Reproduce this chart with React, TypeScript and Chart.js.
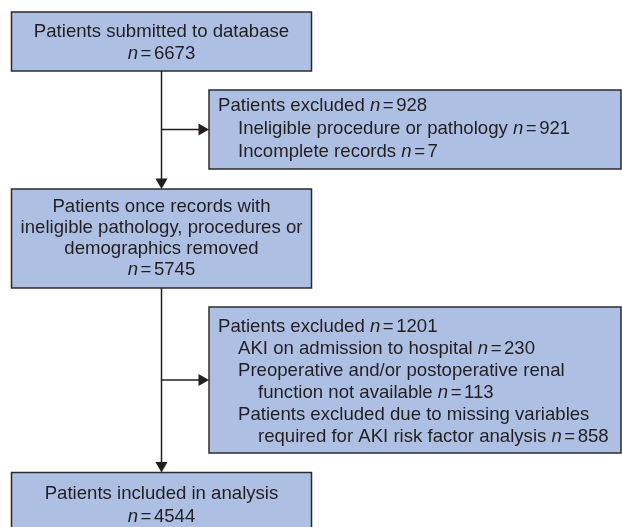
import React, { useEffect, useRef } from "react";
import { Chart, registerables } from "chart.js";

Chart.register(...registerables);

// ---------- DATA ----------
const stageLabels: string[][] = [
  ["Patients submitted to database"],
  ["Patients once records with", "ineligible pathology, procedures or", "demographics removed"],
  ["Patients included in analysis"],
];
const stageCounts: number[] = [6673, 5745, 4544];

const exclusionTitles: string[] = ["Patients excluded", "Patients excluded"];
const exclusionTotals: number[] = [928, 1201];
const exclusionReasons: string[][][] = [
  [["Ineligible procedure or pathology"], ["Incomplete records"]],
  [
    ["AKI on admission to hospital"],
    ["Preoperative and/or postoperative renal", "function not available"],
    ["Patients excluded due to missing variables", "required for AKI risk factor analysis"],
  ],
];
const exclusionCounts: number[][] = [
  [921, 7],
  [230, 113, 858],
];

// ---------- LAYOUT (chart units = px) ----------
const stageBoxes = [
  { x0: 11.5, x1: 311.5, y0: 12, y1: 71, lh: 22, dy: -1 },
  { x0: 11.5, x1: 311.5, y0: 189, y1: 288, lh: 20.7, dy: -2 },
  { x0: 11.5, x1: 311.5, y0: 472.5, y1: 535, lh: 23, dy: -0.5 },
];
const exclusionBoxes = [
  { x0: 209, x1: 621, y0: 90, y1: 169, lh: 23, dy: -2.5 },
  { x0: 209, x1: 621, y0: 307, y1: 453, lh: 22, dy: 0 },
];
const spineX = 161.5;
const FILL = "#adc0e4";
const STROKE = "#2b2b2b";
const TEXT = "#231f20";
const FONT = '"Liberation Sans", Arial, Helvetica, sans-serif';
const FS = 18.6;

type Seg = { t: string; it?: boolean; pad?: number };
type Line = { segs: Seg[]; indent: number };

function nSegs(prefix: string, n: number): Seg[] {
  const s: Seg[] = [];
  if (prefix) s.push({ t: prefix + " " });
  s.push({ t: "n", it: true });
  s.push({ t: "=", pad: 2.5 });
  s.push({ t: String(n) });
  return s;
}

function stageLines(i: number): Line[] {
  const lines: Line[] = stageLabels[i].map((t) => ({ segs: [{ t }], indent: 0 }));
  lines.push({ segs: nSegs("", stageCounts[i]), indent: 0 });
  return lines;
}

function exclusionLines(i: number): Line[] {
  const lines: Line[] = [{ segs: nSegs(exclusionTitles[i], exclusionTotals[i]), indent: 0 }];
  exclusionReasons[i].forEach((parts, j) => {
    parts.forEach((p, k) => {
      const last = k === parts.length - 1;
      lines.push({
        segs: last ? nSegs(p, exclusionCounts[i][j]) : [{ t: p }],
        indent: k === 0 ? 1 : 2,
      });
    });
  });
  return lines;
}

function segFont(s: Seg) {
  return `${s.it ? "italic " : ""}${FS}px ${FONT}`;
}

function segWidth(ctx: CanvasRenderingContext2D, s: Seg) {
  ctx.font = segFont(s);
  return ctx.measureText(s.t).width + 2 * (s.pad || 0);
}

function lineWidth(ctx: CanvasRenderingContext2D, segs: Seg[]) {
  return segs.reduce((w, s) => w + segWidth(ctx, s), 0);
}

const flowPlugin = {
  id: "flowBoxes",
  beforeDatasetsDraw(chart: any) {
    const ctx: CanvasRenderingContext2D = chart.ctx;
    const xs = chart.scales.x;
    const ys = chart.scales.y;
    const drawBox = (b: any, lines: Line[], center: boolean) => {
      const X0 = xs.getPixelForValue(b.x0);
      const X1 = xs.getPixelForValue(b.x1);
      const Y0 = ys.getPixelForValue(b.y0);
      const Y1 = ys.getPixelForValue(b.y1);
      ctx.save();
      ctx.fillStyle = FILL;
      ctx.fillRect(X0, Y0, X1 - X0, Y1 - Y0);
      ctx.strokeStyle = STROKE;
      ctx.lineWidth = 1.5;
      ctx.strokeRect(X0, Y0, X1 - X0, Y1 - Y0);
      ctx.fillStyle = TEXT;
      ctx.textBaseline = "alphabetic";
      ctx.textAlign = "left";
      const midY = (Y0 + Y1) / 2 + b.dy;
      const n = lines.length;
      lines.forEach((ln, i) => {
        const base = midY - ((n - 1) * b.lh) / 2 + i * b.lh + 7;
        let x: number;
        if (center) {
          x = (X0 + X1) / 2 - lineWidth(ctx, ln.segs) / 2;
        } else {
          x = X0 + 9 + ln.indent * 20;
        }
        ln.segs.forEach((s) => {
          ctx.font = segFont(s);
          ctx.fillText(s.t, x + (s.pad || 0), base);
          x += segWidth(ctx, s);
        });
      });
      ctx.restore();
    };
    stageBoxes.forEach((b, i) => drawBox(b, stageLines(i), true));
    exclusionBoxes.forEach((b, i) => drawBox(b, exclusionLines(i), false));
  },
};

export default function App() {
  const ref = useRef<HTMLCanvasElement>(null);
  useEffect(() => {
    document.body.style.margin = "0";
    const canvas = ref.current!;
    const arrowR = 7;
    const connectors: { x: number; y: number }[][] = [
      [
        { x: spineX, y: stageBoxes[0].y1 },
        { x: spineX, y: stageBoxes[1].y0 - arrowR },
      ],
      [
        { x: spineX, y: stageBoxes[1].y1 },
        { x: spineX, y: stageBoxes[2].y0 - arrowR },
      ],
      [
        { x: spineX, y: (exclusionBoxes[0].y0 + exclusionBoxes[0].y1) / 2 },
        { x: exclusionBoxes[0].x0 - arrowR, y: (exclusionBoxes[0].y0 + exclusionBoxes[0].y1) / 2 },
      ],
      [
        { x: spineX, y: (exclusionBoxes[1].y0 + exclusionBoxes[1].y1) / 2 },
        { x: exclusionBoxes[1].x0 - arrowR, y: (exclusionBoxes[1].y0 + exclusionBoxes[1].y1) / 2 },
      ],
    ];
    const heads = [
      { x: spineX, y: stageBoxes[1].y0 - arrowR, r: 180 },
      { x: spineX, y: stageBoxes[2].y0 - arrowR, r: 180 },
      { x: exclusionBoxes[0].x0 - arrowR, y: (exclusionBoxes[0].y0 + exclusionBoxes[0].y1) / 2, r: 90 },
      { x: exclusionBoxes[1].x0 - arrowR, y: (exclusionBoxes[1].y0 + exclusionBoxes[1].y1) / 2, r: 90 },
    ];
    const datasets: any[] = connectors.map((pts) => ({
      type: "scatter",
      data: pts,
      showLine: true,
      borderColor: TEXT,
      borderWidth: 1.5,
      pointRadius: 0,
      fill: false,
    }));
    datasets.push({
      type: "scatter",
      data: heads.map((h) => ({ x: h.x, y: h.y })),
      showLine: false,
      pointStyle: "triangle",
      pointRadius: arrowR,
      pointRotation: heads.map((h) => h.r),
      backgroundColor: TEXT,
      borderColor: TEXT,
      borderWidth: 0,
    });
    const chart = new Chart(canvas, {
      type: "scatter",
      data: { datasets },
      options: {
        animation: false,
        responsive: false,
        devicePixelRatio: 1,
        layout: { padding: 0, autoPadding: false },
        plugins: { legend: { display: false }, tooltip: { enabled: false } },
        events: [],
        scales: {
          x: { type: "linear", min: 0, max: 622, display: false },
          y: { type: "linear", min: 0, max: 527, reverse: true, display: false },
        },
      },
      plugins: [flowPlugin],
    });
    return () => chart.destroy();
  }, []);
  return (
    <div style={{ position: "absolute", left: 0, top: 0, width: 622, height: 527, background: "#fff" }}>
      <canvas ref={ref} width={622} height={527} />
    </div>
  );
}
